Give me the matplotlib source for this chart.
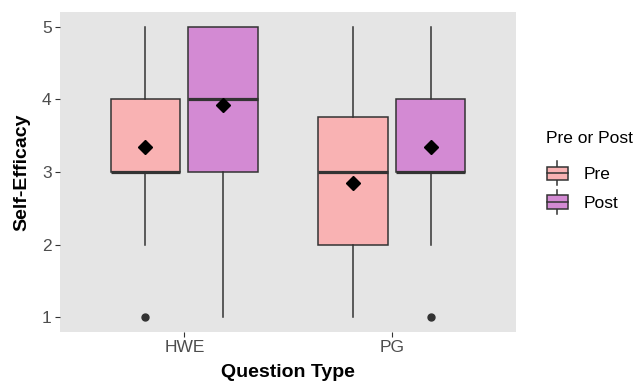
import matplotlib
matplotlib.use("Agg")
import matplotlib.pyplot as plt
from matplotlib.legend_handler import HandlerBase
from matplotlib.patches import Patch, Rectangle
from matplotlib.lines import Line2D

plt.rcParams["font.family"] = ["Liberation Sans", "DejaVu Sans"]

# data
question_types = ["HWE", "PG"]
groups = ["Pre", "Post"]
group_colors = ["#F9B2B3", "#D38AD3"]

# per group, per question type
whislo = {"Pre": [2, 1], "Post": [1, 2]}
q1 = {"Pre": [3, 2], "Post": [3, 3]}
med = {"Pre": [3, 3], "Post": [4, 3]}
q3 = {"Pre": [4, 3.75], "Post": [5, 4]}
whishi = {"Pre": [5, 5], "Post": [5, 5]}
fliers = {"Pre": [[1], []], "Post": [[], [1]]}
means = {"Pre": [3.35, 2.85], "Post": [3.92, 3.34]}

EDGE = "#333333"
TEXT = "#4D4D4D"

fig = plt.figure(figsize=(6.39, 3.81), dpi=100)
ax = fig.add_axes([60 / 639, 1 - 332 / 381, 456 / 639, 320 / 381])
ax.set_facecolor("#E5E5E5")

offsets = [-0.1875, 0.1875]
for gi, g in enumerate(groups):
    stats = []
    for qi in range(len(question_types)):
        stats.append(dict(
            whislo=whislo[g][qi], q1=q1[g][qi], med=med[g][qi],
            q3=q3[g][qi], whishi=whishi[g][qi], fliers=fliers[g][qi],
        ))
    pos = [qi + 1 + offsets[gi] for qi in range(len(question_types))]
    ax.bxp(
        stats, positions=pos, widths=0.3375, patch_artist=True,
        showcaps=False, manage_ticks=False,
        boxprops=dict(facecolor=group_colors[gi], edgecolor=EDGE, linewidth=1.1),
        medianprops=dict(color=EDGE, linewidth=2.3, solid_capstyle="butt"),
        whiskerprops=dict(color=EDGE, linewidth=1.1),
        flierprops=dict(marker="o", markerfacecolor=EDGE, markeredgecolor=EDGE,
                        markersize=5),
    )
    ax.plot(pos, means[g], linestyle="none", marker="D", color="black",
            markersize=7, zorder=5)

ax.set_xlim(0.4, 2.6)
ax.set_ylim(0.8, 5.2)
ax.set_xticks([1, 2])
ax.set_xticklabels(question_types)
ax.set_yticks([1, 2, 3, 4, 5])
for s in ax.spines.values():
    s.set_visible(False)
ax.tick_params(colors=EDGE, labelcolor=TEXT, labelsize=12.5, length=3.5,
               width=0.8, pad=2.5)
ax.set_xlabel("Question Type", fontsize=14, fontweight="bold")
ax.set_ylabel("Self-Efficacy", fontsize=14, fontweight="bold")
ax.xaxis.set_label_coords(0.5, -0.1)
ax.yaxis.set_label_coords(-0.064, 0.5)


class BoxHandler(HandlerBase):
    def create_artists(self, legend, orig_handle, xdescent, ydescent,
                       width, height, fontsize, trans):
        fc = orig_handle.get_facecolor()
        cx = width / 2 - xdescent
        bw = width * 0.95
        bh = height * 0.86
        y0 = -ydescent + (height - bh) / 2
        ext = height * 0.35
        arts = [
            Line2D([cx, cx], [y0 - ext, y0], color=EDGE, lw=1.1),
            Line2D([cx, cx], [y0 + bh, y0 + bh + ext], color=EDGE, lw=1.1),
            Rectangle((cx - bw / 2, y0), bw, bh, facecolor=fc, edgecolor=EDGE, lw=1.1),
            Line2D([cx - bw / 2, cx + bw / 2], [y0 + bh / 2] * 2, color=EDGE, lw=1.1),
        ]
        for a in arts:
            a.set_transform(trans)
        return arts


handles = [Patch(facecolor=c, edgecolor=EDGE) for c in group_colors]
leg = fig.legend(handles, groups, title="Pre or Post", loc="upper left",
                 bbox_to_anchor=(546 / 639, 1 - 131 / 381), frameon=False,
                 borderaxespad=0, borderpad=0,
                 handler_map={Patch: BoxHandler()}, fontsize=12.5,
                 title_fontsize=12.5, handlelength=1.3, handleheight=1.0,
                 handletextpad=0.85, labelspacing=0.7)
leg._legend_box.align = "left"
leg._legend_box.sep = 14

fig.savefig("out.png", dpi=100)
